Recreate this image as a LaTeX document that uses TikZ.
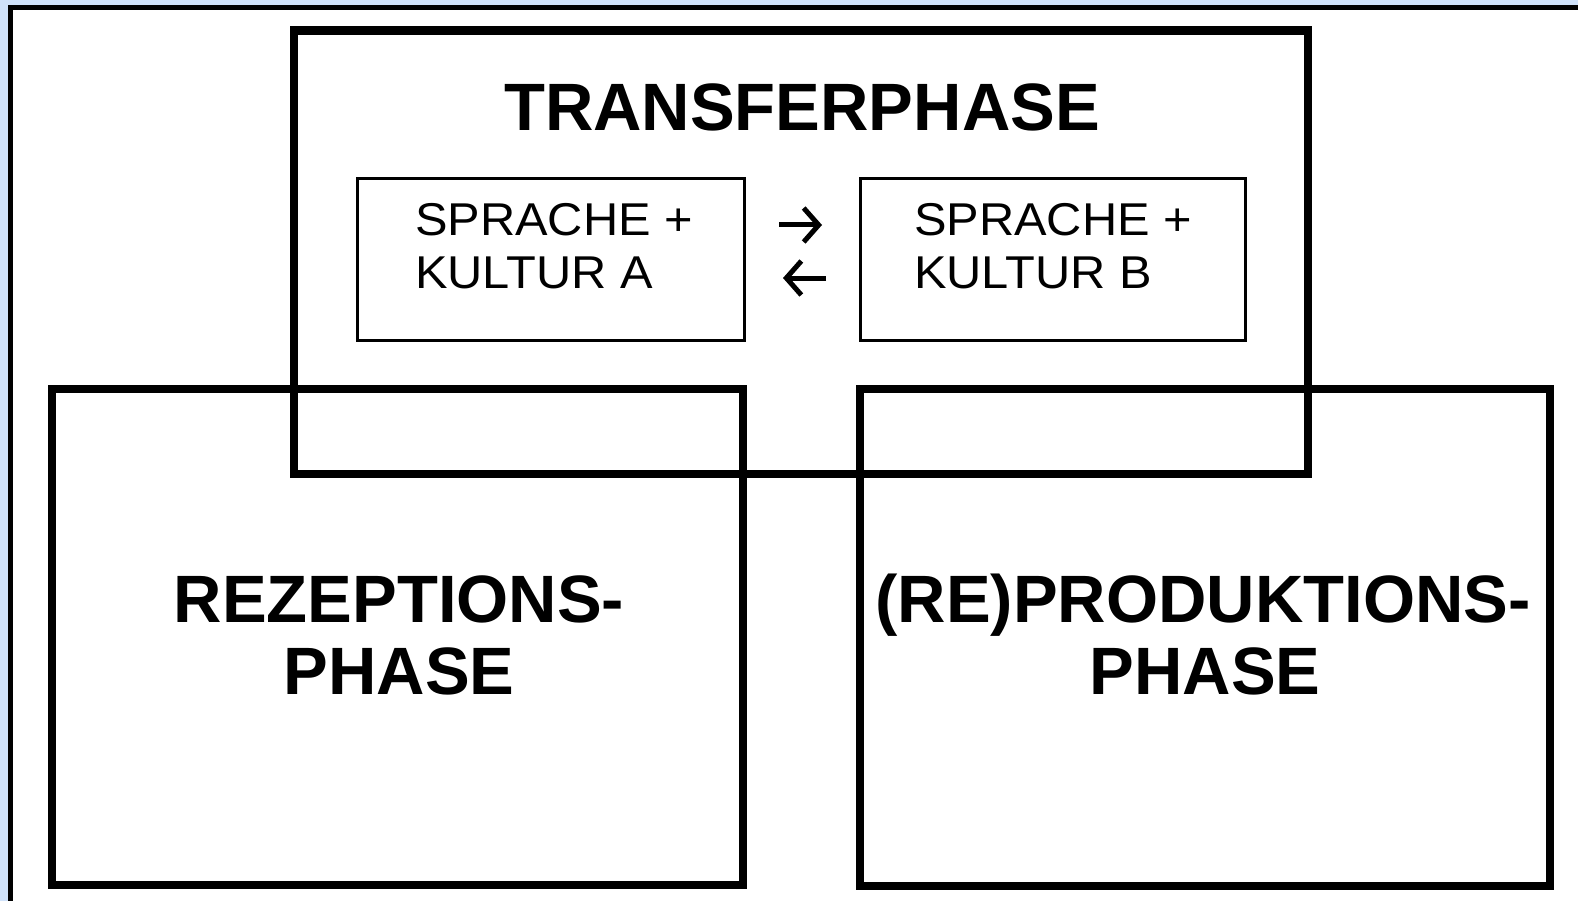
\documentclass[tikz,border=0pt]{standalone}
\usepackage{fontspec}
\setmainfont{Liberation Sans}
\usetikzlibrary{arrows.meta}
\definecolor{bgblue}{RGB}{208,226,250}
\begin{document}
\begin{tikzpicture}[x=1pt,y=-1pt,
  heavybox/.style={draw=black,line width=8.5pt,rectangle,inner sep=0pt},
  lightbox/.style={draw=black,line width=3pt,rectangle,inner sep=0pt},
  phase/.style={font=\fontsize{67}{72}\selectfont\bfseries,inner sep=0pt,anchor=base},
  lang/.style={font=\fontsize{46}{52}\selectfont,inner sep=0pt,anchor=base west,xscale=1.06},
  swap/.style={line width=5pt,-{Straight Barb[length=15pt,width=34pt]}}]
\useasboundingbox (0,0) rectangle (1578,901);
% page background and frame
\fill[bgblue] (0,0) rectangle (1578,901);
\fill[white] (8,5) rectangle (1578,901);
\draw[line width=5pt] (10.5,901) |- (1578,7.5);

% three phases
\node[heavybox,minimum width=1014pt,minimum height=443.5pt] (transfer) at (801,252.25) {};
\node[heavybox,minimum width=691pt,minimum height=496pt] (rez) at (397.5,637) {};
\node[heavybox,minimum width=690pt,minimum height=497pt] (prod) at (1205,637.5) {};

% language and culture boxes
\node[lightbox,minimum width=387pt,minimum height=161.5pt] (kA) at (550.5,259.25) {};
\node[lightbox,minimum width=385pt,minimum height=161.5pt] (kB) at (1052.5,259.25) {};

% labels
\node[phase] (tlabel) at (802,131) {TRANSFERPHASE};
\node[phase] (rlabel1) at (399,622) {REZEPTIONS-};
\node[phase] (rlabel2) at (399,694) {PHASE};
\node[phase] (plabel1) at (1203,622) {(RE)PRODUKTIONS-};
\node[phase] (plabel2) at (1205,694) {PHASE};

\node[lang] (a1) at (415,236) {SPRACHE +};
\node[lang] (a2) at (415,288) {KULTUR A};
\node[lang] (b1) at (914,236) {SPRACHE +};
\node[lang] (b2) at (914,288) {KULTUR B};

% exchange arrows between the two cultures
\coordinate (ra) at (779,225);
\coordinate (rb) at (822,225);
\coordinate (la) at (826,278);
\coordinate (lb) at (783,278);
\draw[swap] (ra) -- (rb);
\draw[swap] (la) -- (lb);
\end{tikzpicture}
\end{document}
